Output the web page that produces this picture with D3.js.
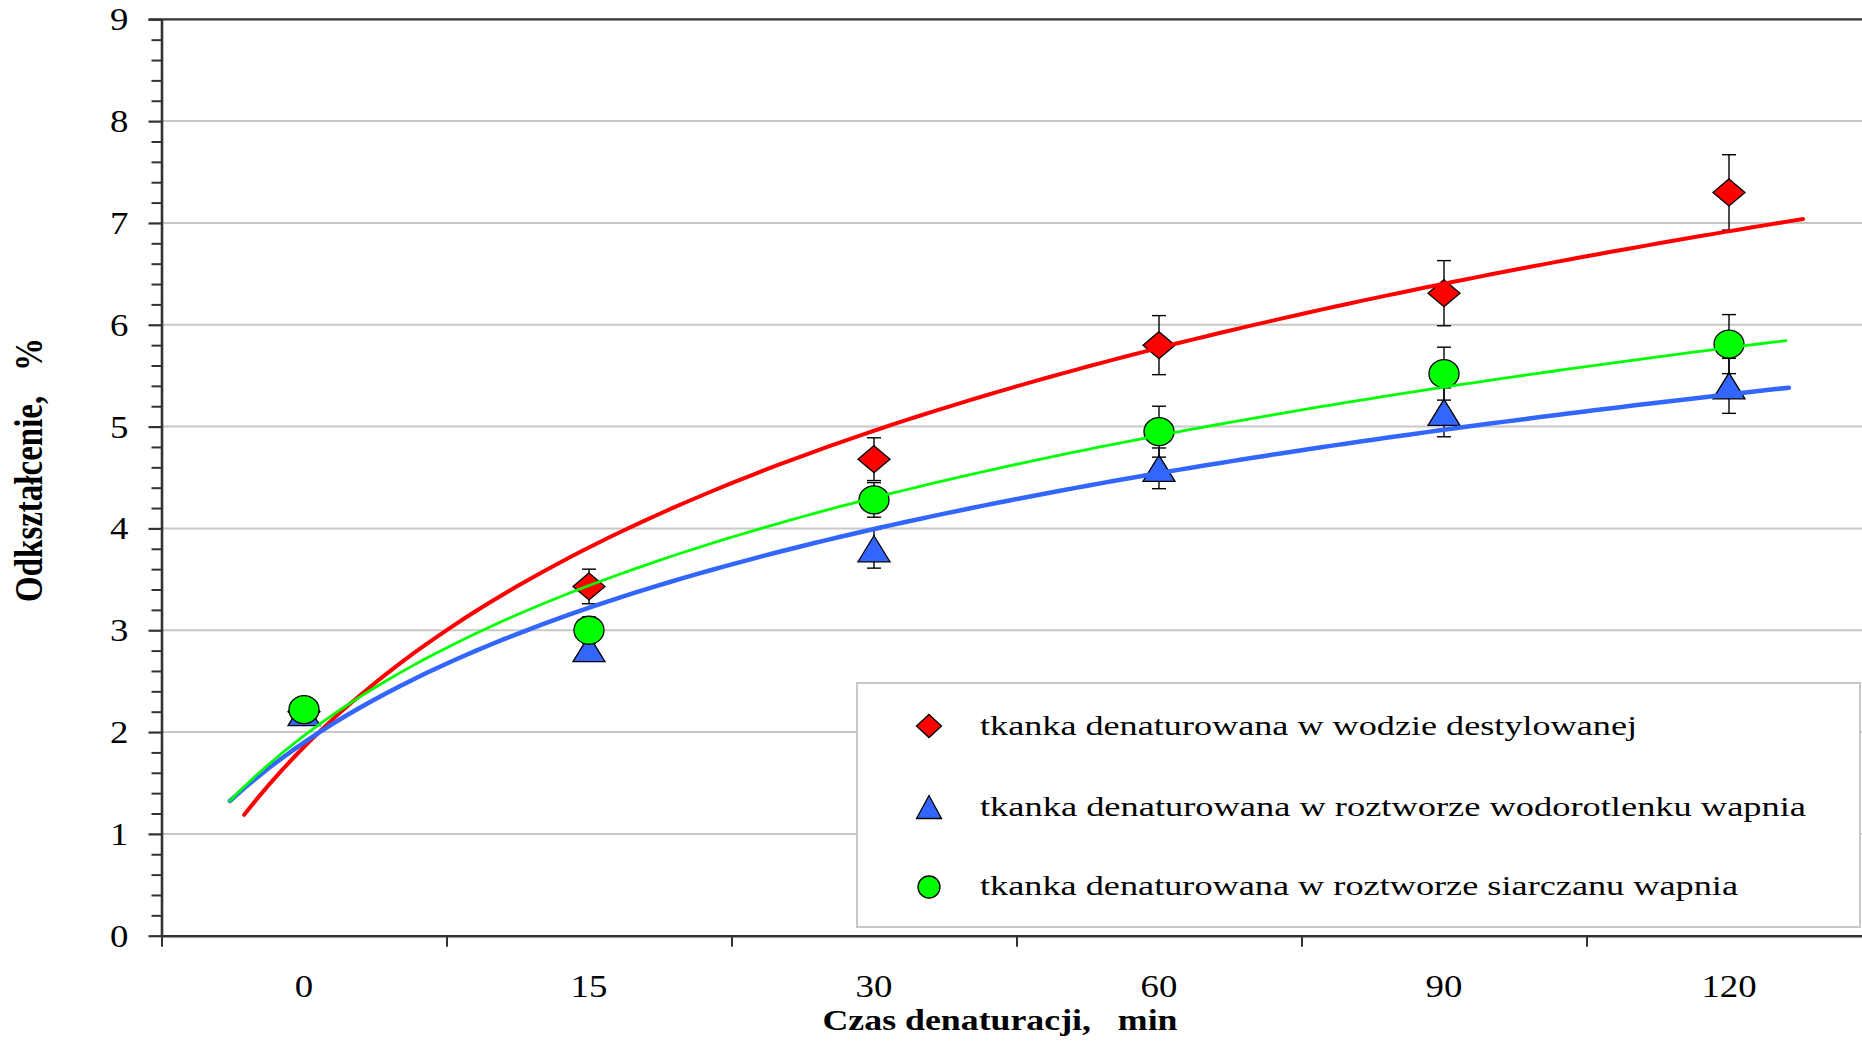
<!DOCTYPE html>
<html>
<head>
<meta charset="utf-8">
<script src="https://cdn.jsdelivr.net/npm/d3@7"></script>
<style>
  body { margin: 0; background: #fff; }
  svg { display: block; }
  text { font-family: "Liberation Serif", "Times New Roman", serif; fill: #000; }
</style>
</head>
<body>
<div id="chart"></div>
<script>
// categories on the x axis (minutes)
const categories = ["0", "15", "30", "60", "90", "120"];

// series values (%), with +/- error
const wodaValues = [2.20, 3.43, 4.68, 5.80, 6.31, 7.30];
const wodaErrors = [0.10, 0.17, 0.21, 0.29, 0.32, 0.37];

const wodorotlenekValues = [2.19, 2.82, 3.80, 4.59, 5.14, 5.40];
const wodorotlenekErrors = [0.05, 0.10, 0.19, 0.20, 0.24, 0.27];

const siarczanValues = [2.22, 3.00, 4.28, 4.95, 5.52, 5.81];
const siarczanErrors = [0.05, 0.13, 0.17, 0.25, 0.26, 0.29];

// trendline extent, in category-index units (1 = first category)
const wodaTrendRange = [0.79, 6.26];
const wodorotlenekTrendRange = [0.74, 6.21];
const siarczanTrendRange = [0.74, 6.20];

const yTicks = [0, 1, 2, 3, 4, 5, 6, 7, 8, 9];

const legendLabels = [
    "tkanka denaturowana w wodzie destylowanej",
    "tkanka denaturowana w roztworze wodorotlenku wapnia",
    "tkanka denaturowana w roztworze siarczanu wapnia"
];

const series = [
    { values: wodaValues, errors: wodaErrors, range: wodaTrendRange, color: "#ff0000", symbol: "diamond", lw: 4 },
    { values: wodorotlenekValues, errors: wodorotlenekErrors, range: wodorotlenekTrendRange, color: "#3366ff", symbol: "triangle", lw: 4.5 },
    { values: siarczanValues, errors: siarczanErrors, range: siarczanTrendRange, color: "#00ff00", symbol: "circle", lw: 2.8 }
];

const W = 1862, H = 1043;
const svg = d3.select("#chart").append("svg").attr("width", W).attr("height", H);

// plot geometry
const x0 = 161.5, bandW = 285;
const yTop = 19.3, yBottom = 935.7;

const x = d3.scaleBand().domain(categories).range([x0, x0 + bandW * categories.length]).padding(0);
// continuous index scale (category i at index i+1)
const xi = d3.scaleLinear().domain([0.5, categories.length + 0.5]).range([x0, x0 + bandW * categories.length]);
const y = d3.scaleLinear().domain([0, 9]).range([yBottom, yTop]);

const axisColor = "#333";

// gridlines
svg.append("g")
    .selectAll("line")
    .data(yTicks.filter(d => d > 0 && d < 9))
    .join("line")
    .attr("x1", x0).attr("x2", W)
    .attr("y1", d => y(d)).attr("y2", d => y(d))
    .attr("stroke", "#c8c8c8").attr("stroke-width", 2);

// top border
svg.append("line")
    .attr("x1", x0 - 13).attr("x2", W)
    .attr("y1", y(9)).attr("y2", y(9))
    .attr("stroke", axisColor).attr("stroke-width", 2.2);

// y axis: minor ticks
const minor = d3.range(0, 9.001, 0.2).filter(v => Math.abs(v - Math.round(v)) > 1e-6);
svg.append("g")
    .attr("transform", `translate(${x0},0)`)
    .call(d3.axisLeft(y).tickValues(minor).tickSize(10).tickFormat(""))
    .call(g => g.select(".domain").remove())
    .call(g => g.selectAll("line").attr("stroke", axisColor).attr("stroke-width", 2));

// y axis: major ticks + labels
const tickSx = 1.15;
svg.append("g")
    .attr("transform", `translate(${x0},0)`)
    .call(d3.axisLeft(y).tickValues(yTicks).tickSize(13).tickSizeOuter(0).tickFormat(d3.format("d")))
    .call(g => g.select(".domain").attr("stroke", axisColor).attr("stroke-width", 2.6))
    .call(g => g.selectAll("line").attr("stroke", axisColor).attr("stroke-width", 2.2))
    .call(g => g.selectAll("text")
        .attr("font-size", 32)
        .attr("fill", "#000")
        .attr("x", -33 / tickSx)
        .attr("dy", "0.33em")
        .attr("transform", `scale(${tickSx},1)`));

// x axis: boundary ticks
svg.append("g")
    .attr("transform", `translate(0,${yBottom})`)
    .call(d3.axisBottom(xi).tickValues(d3.range(0.5, categories.length, 1)).tickSize(11).tickSizeOuter(0).tickFormat(""))
    .call(g => g.select(".domain").attr("stroke", axisColor).attr("stroke-width", 2.6))
    .call(g => g.selectAll("line").attr("stroke", axisColor).attr("stroke-width", 2));

// x axis: category labels
svg.append("g")
    .attr("transform", `translate(0,${yBottom})`)
    .call(d3.axisBottom(x).tickSize(0))
    .call(g => g.select(".domain").remove())
    .call(g => g.selectAll("text")
        .attr("font-size", 32)
        .attr("fill", "#000")
        .attr("y", 61)
        .attr("dy", 0)
        .attr("x", 0)
        .attr("transform", `scale(${tickSx},1)`));

// axis titles
svg.append("text")
    .attr("x", 1000).attr("y", 1030)
    .attr("text-anchor", "middle")
    .attr("font-size", 29).attr("font-weight", "bold")
    .attr("textLength", 355).attr("lengthAdjust", "spacingAndGlyphs")
    .style("white-space", "pre")
    .text("Czas denaturacji,   min");

svg.append("text")
    .attr("transform", `translate(42,470) scale(1.2,1) rotate(-90)`)
    .attr("text-anchor", "middle")
    .attr("font-size", 33).attr("font-weight", "bold")
    .attr("textLength", 264).attr("lengthAdjust", "spacingAndGlyphs")
    .style("white-space", "pre")
    .text("Odkształcenie,   %");

// marker shapes
function markerPath(type, w, h) {
    if (type === "diamond") return `M0,${-h / 2}L${w / 2},0L0,${h / 2}L${-w / 2},0Z`;
    if (type === "triangle") return `M0,${-h / 2}L${w / 2},${h / 2}L${-w / 2},${h / 2}Z`;
    return null;
}
function drawMarker(sel, type, w, h, color) {
    if (type === "circle") {
        sel.append("ellipse").attr("rx", w / 2).attr("ry", h / 2)
            .attr("fill", color).attr("stroke", "#000").attr("stroke-width", 1.3);
    } else {
        sel.append("path").attr("d", markerPath(type, w, h))
            .attr("fill", color).attr("stroke", "#000").attr("stroke-width", 1.3);
    }
}
const markerSize = { diamond: [32, 27], triangle: [32, 26], circle: [30, 28] };

// error bars and markers
series.forEach(s => {
    const g = svg.append("g");
    const pts = categories.map((c, i) => ({ c, v: s.values[i], e: s.errors[i] }));
    const cap = 7;
    const eb = g.selectAll("g.eb").data(pts).join("g").attr("class", "eb")
        .attr("transform", d => `translate(${x(d.c) + x.bandwidth() / 2},0)`);
    eb.append("line").attr("y1", d => y(d.v - d.e)).attr("y2", d => y(d.v + d.e))
        .attr("stroke", "#000").attr("stroke-width", 1.4);
    eb.append("line").attr("x1", -cap).attr("x2", cap).attr("y1", d => y(d.v + d.e)).attr("y2", d => y(d.v + d.e))
        .attr("stroke", "#000").attr("stroke-width", 1.4);
    eb.append("line").attr("x1", -cap).attr("x2", cap).attr("y1", d => y(d.v - d.e)).attr("y2", d => y(d.v - d.e))
        .attr("stroke", "#000").attr("stroke-width", 1.4);

    g.selectAll("g.mk").data(pts).join("g").attr("class", "mk")
        .attr("transform", d => `translate(${x(d.c) + x.bandwidth() / 2},${y(d.v)})`)
        .each(function() {
            const [w, h] = markerSize[s.symbol];
            drawMarker(d3.select(this), s.symbol, w, h, s.color);
        });
});

// logarithmic trendlines (least squares on y = a*ln(i) + b)
function logFit(vals) {
    const lx = vals.map((v, i) => Math.log(i + 1));
    const mx = d3.mean(lx), my = d3.mean(vals);
    let sxy = 0, sxx = 0;
    lx.forEach((l, i) => { sxy += (l - mx) * (vals[i] - my); sxx += (l - mx) * (l - mx); });
    const a = sxy / sxx;
    return { a, b: my - a * mx };
}
const line = d3.line().x(d => xi(d[0])).y(d => y(d[1]));
series.forEach(s => {
    const f = logFit(s.values);
    const ts = d3.range(0, 121).map(k => s.range[0] + (s.range[1] - s.range[0]) * k / 120);
    svg.append("path")
        .datum(ts.map(t => [t, f.a * Math.log(t) + f.b]))
        .attr("d", line)
        .attr("fill", "none")
        .attr("stroke", s.color)
        .attr("stroke-width", s.lw)
        .attr("stroke-linecap", "round");
});

// legend
const legend = svg.append("g");
legend.append("rect")
    .attr("x", 857).attr("y", 683).attr("width", 1003).attr("height", 244)
    .attr("fill", "#fff").attr("stroke", "#c8c8c8").attr("stroke-width", 2);
const legendRowY = [726, 807, 887];
const legendBase = [735, 816, 895];
const legendLen = [657, 826, 758];
series.forEach((s, i) => {
    const mg = legend.append("g").attr("transform", `translate(929,${legendRowY[i]})`);
    drawMarker(mg, s.symbol, s.symbol === "circle" ? 22 : 25, s.symbol === "circle" ? 22 : 23, s.color);
    legend.append("text")
        .attr("x", 980).attr("y", legendBase[i])
        .attr("font-size", 28)
        .attr("textLength", legendLen[i]).attr("lengthAdjust", "spacingAndGlyphs")
        .text(legendLabels[i]);
});
</script>
</body>
</html>
